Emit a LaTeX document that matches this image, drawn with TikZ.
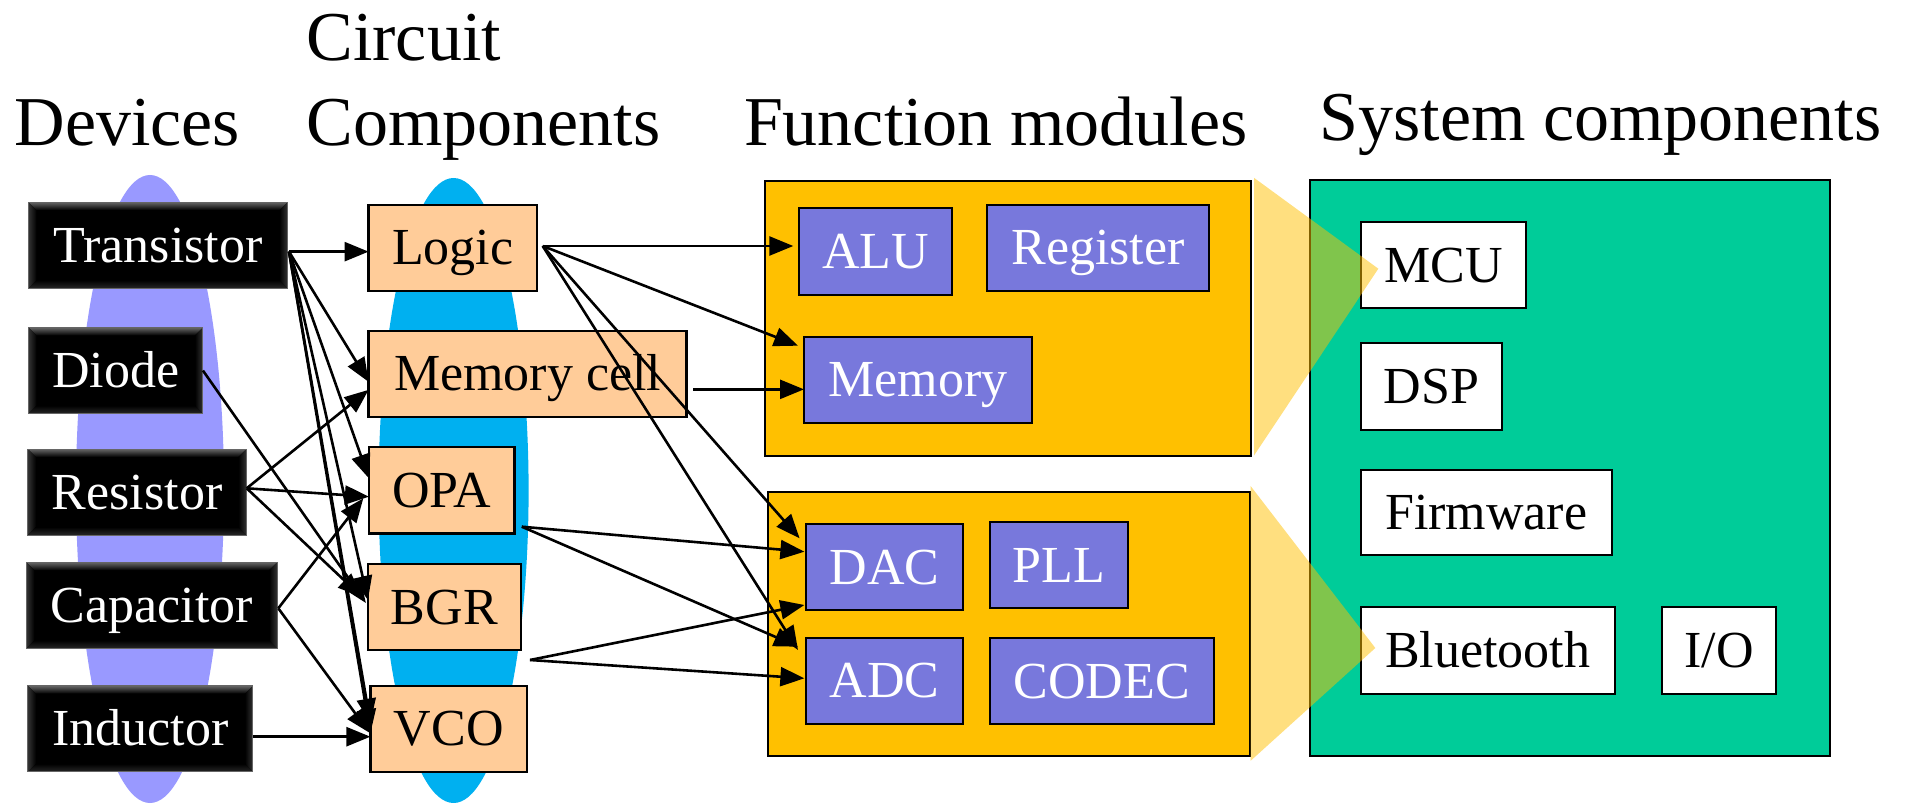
\documentclass[tikz,border=0pt]{standalone}
\usepackage{fontspec}
\setmainfont{Liberation Serif}
\usetikzlibrary{arrows.meta,calc}

\definecolor{devfill}{HTML}{9999FF}
\definecolor{cirfill}{HTML}{00B0F0}
\definecolor{peach}{HTML}{FFCC99}
\definecolor{amber}{HTML}{FFC000}
\definecolor{modviolet}{HTML}{7878DC}
\definecolor{sysgreen}{HTML}{00CC99}

\newcommand{\TitleFnt}{\fontsize{70}{84}\selectfont}
\newcommand{\BoxFnt}{\fontsize{52}{60}\selectfont}

\begin{document}
\begin{tikzpicture}[x=1pt,y=-1pt,
  every node/.style={inner sep=0pt, outer sep=0pt},
  lbl/.style={font=\BoxFnt, text height=34pt, text depth=0pt, align=center},
  devbox/.style={lbl, fill=black, draw=black!60, line width=1pt, text=white,
    path picture={
      \coordinate (q1) at (path picture bounding box.north west);
      \coordinate (q2) at (path picture bounding box.north east);
      \coordinate (q3) at (path picture bounding box.south east);
      \coordinate (q4) at (path picture bounding box.south west);
      \shade[top color=black!60, bottom color=black]
        (q1) -- (q2) -- ($(q2)+(-8,8)$) -- ($(q1)+(8,8)$) -- cycle;
      \shade[left color=black!80, right color=black]
        (q1) -- ($(q1)+(8,8)$) -- ($(q4)+(8,-8)$) -- (q4) -- cycle;
      \shade[left color=black, right color=black!80]
        (q2) -- ($(q2)+(-8,8)$) -- ($(q3)+(-8,-8)$) -- (q3) -- cycle;
      \shade[top color=black, bottom color=black!85]
        (q4) -- ($(q4)+(8,-8)$) -- ($(q3)+(-8,-8)$) -- (q3) -- cycle;
    }},
  cirbox/.style={lbl, fill=peach, draw=black, line width=2.4pt},
  funbox/.style={lbl, fill=modviolet, draw=black, line width=2pt, text=white},
  sysbox/.style={lbl, fill=white, draw=black, line width=2pt},
  panel/.style={draw=black, line width=2pt},
  conn/.style={-{Triangle[length=24pt,width=19pt]}, line width=2.6pt},
  ttl/.style={font=\TitleFnt, anchor=base west},
  callout/.style={fill=amber, fill opacity=0.5},
]
\useasboundingbox (0,0) rectangle (1907,805);

% column headings
\node[ttl] (tDev)  at (14.6,146)   {Devices};
\node[ttl] (tCir1) at (306.5,61)   {Circuit};
\node[ttl] (tCir2) at (306.5,146)  {Components};
\node[ttl] (tFun)  at (744,146)    {Function modules};
\node[ttl] (tSys)  at (1319.6,141) {System components};

% background ellipses of the first two columns
\fill[devfill] (150,489) ellipse [x radius=74, y radius=314];
\fill[cirfill] (453.6,490.5) ellipse [x radius=75, y radius=312.5];

% devices
\node[devbox, minimum width=258.9pt, minimum height=86pt] (Tr) at (158.05,245.15) {Transistor};
\node[devbox, minimum width=174.3pt, minimum height=86pt] (Di) at (115.75,370.5)  {Diode};
\node[devbox, minimum width=218.5pt, minimum height=86pt] (Re) at (137.15,492)    {Resistor};
\node[devbox, minimum width=250.6pt, minimum height=86pt] (Ca) at (151.7,605.3)   {Capacitor};
\node[devbox, minimum width=225pt,   minimum height=86pt] (In) at (140.4,728.7)   {Inductor};

% circuit components
\node[cirbox, minimum width=168.4pt, minimum height=85.7pt] (Lo) at (452.8,247.85) {Logic};
\node[cirbox, minimum width=318pt,   minimum height=85.7pt] (Mc) at (527.6,373.85) {Memory cell};
\node[cirbox, minimum width=145.7pt, minimum height=86.6pt] (Op) at (441.75,490)   {OPA};
\node[cirbox, minimum width=152.8pt, minimum height=86pt]   (Bg) at (444.3,607)    {BGR};
\node[cirbox, minimum width=156.7pt, minimum height=86pt]   (Vc) at (448.75,728.7) {VCO};

% function module panels
\node[panel, fill=amber, minimum width=486pt, minimum height=275.3pt] (topP) at (1008,318.35) {};
\node[panel, fill=amber, minimum width=482pt, minimum height=264.3pt] (botP) at (1009,623.85) {};

\node[funbox, minimum width=153pt, minimum height=86.7pt] (ALU) at (875.5,251.65) {ALU};
\node[funbox, minimum width=222pt, minimum height=86pt]   (Reg) at (1098,248)     {Register};
\node[funbox, minimum width=228pt, minimum height=86pt]   (Mem) at (918,379.7)    {Memory};
\node[funbox, minimum width=157pt, minimum height=86pt]   (DAC) at (884.5,567)    {DAC};
\node[funbox, minimum width=138pt, minimum height=86pt]   (PLL) at (1059,565.3)   {PLL};
\node[funbox, minimum width=157pt, minimum height=86.3pt] (ADC) at (884.5,680.85) {ADC};
\node[funbox, minimum width=223.5pt, minimum height=86pt] (COD) at (1101.75,681.3) {CODEC};

% system panel
\node[panel, fill=sysgreen, line width=2.4pt, minimum width=520pt, minimum height=576pt] (sysP) at (1570,468) {};
\node[sysbox, minimum width=165pt,   minimum height=85.7pt] (MCU) at (1443.5,265.35)  {MCU};
\node[sysbox, minimum width=140.7pt, minimum height=86.6pt] (DSP) at (1431.35,386.3)  {DSP};
\node[sysbox, minimum width=250.5pt, minimum height=85pt]   (FW)  at (1486.25,512.8)  {Firmware};
\node[sysbox, minimum width=253.5pt, minimum height=86.2pt] (BT)  at (1487.75,650.5)  {Bluetooth};
\node[sysbox, minimum width=114pt,   minimum height=86.2pt] (IO)  at (1719,650.5)     {I/O};

% connector start points
\coordinate (trO) at ($(Tr.east)+(1.5,6.5)$);
\coordinate (diO) at (Di.east);
\coordinate (reO) at ($(Re.east)+(0.3,-3.7)$);
\coordinate (caO) at ($(Ca.east)+(1.3,3)$);
\coordinate (inO) at ($(In.east)+(0,8)$);
\coordinate (loO) at ($(Lo.east)+(5.7,-1.85)$);
\coordinate (mcO) at ($(Mc.east)+(6.4,15.5)$);
\coordinate (opO) at ($(Op.east)+(7.2,36.7)$);
\coordinate (bgO) at ($(Bg.east)+(9.3,53)$);

% devices -> circuit components
\draw[conn] (trO) -- (trO -| Lo.west);
\draw[conn] (trO) -- ($(Mc.west)+(0,8)$);
\draw[conn] (trO) -- ($(Op.west)+(0,-11.7)$);
\draw[conn] (trO) -- ($(Bg.west)+(0,-7)$);
\draw[conn] (trO) -- ($(Vc.west)+(0,-6)$);
\draw[conn] (trO) -- ($(Vc.west)+(0,4.6)$);
\draw[conn] (diO) -- ($(Bg.west)+(-2,-4)$);
\draw[conn] (reO) -- ($(Mc.west)+(0,16)$);
\draw[conn] (reO) -- ($(Op.west)+(0,6.7)$);
\draw[conn] (reO) -- ($(Bg.west)+(-6,-10)$);
\draw[conn] (caO) -- ($(Op.west)+(-5.6,8.3)$);
\draw[conn] (caO) -- ($(Vc.west)+(-1,4)$);
\draw[conn] (inO) -- (inO -| Vc.west);

% circuit components -> function modules
\draw[conn, shorten >=5.7pt] (loO) -- (loO -| ALU.west);
\draw[conn] (loO) -- ($(Mem.north west)+(-6,9)$);
\draw[conn] (loO) -- ($(DAC.north west)+(-6.4,14.3)$);
\draw[conn] (loO) -- ($(ADC.north west)+(-8,12.3)$);
\draw[conn] (mcO) -- (mcO -| Mem.west);
\draw[conn] (opO) -- ($(DAC.west)+(-1.6,-15.3)$);
\draw[conn] (opO) -- ($(ADC.west)+(-8,-34.15)$);
\draw[conn] (bgO) -- ($(DAC.west)+(-1.6,38)$);
\draw[conn] (bgO) -- ($(ADC.west)+(-1.6,-2.55)$);

% translucent call-outs from the module panels into the system panel
\fill[callout] (1254,177.8) -- (1378.3,268.7) -- (1254,455.6) -- cycle;
\fill[callout] (1250.6,486) -- (1375.3,648) -- (1250.6,760.8) -- cycle;
\end{tikzpicture}
\end{document}
